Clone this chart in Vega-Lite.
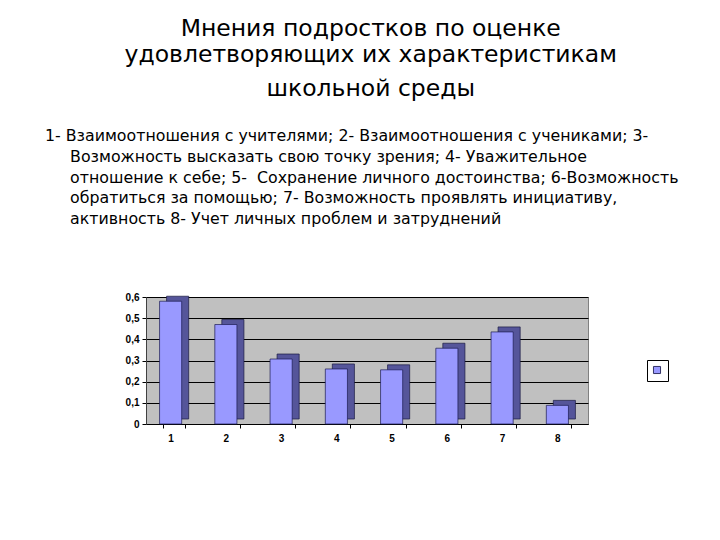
{
  "$schema": "https://vega.github.io/schema/vega-lite/v6.json",
  "padding": {"left": 44, "top": 16, "right": 5, "bottom": 5},
  "background": "white",
  "title": {
    "text": ["Мнения подростков по оценке", "удовлетворяющих их характеристикам"],
    "subtitle": "школьной среды",
    "anchor": "middle",
    "font": "DejaVu Sans",
    "fontSize": 23.5,
    "fontWeight": "normal",
    "color": "black",
    "lineHeight": 26,
    "subtitleFont": "DejaVu Sans",
    "subtitleFontSize": 23.5,
    "subtitleColor": "black",
    "subtitleLineHeight": 26,
    "subtitlePadding": 11,
    "offset": 27,
    "dx": 9
  },
  "config": {
    "view": {"fill": "#c0c0c0", "stroke": "#808080"}
  },
  "vconcat": [
    {
      "width": 442,
      "height": 127,
      "title": {
        "text": [
          "1- Взаимоотношения с учителями; 2- Взаимоотношения с учениками; 3-",
          "\u200b\u00a0\u00a0\u00a0\u00a0\u00a0Возможность высказать свою точку зрения; 4- Уважительное",
          "\u200b\u00a0\u00a0\u00a0\u00a0\u00a0отношение к себе; 5- \u00a0Сохранение личного достоинства; 6-Возможность",
          "\u200b\u00a0\u00a0\u00a0\u00a0\u00a0обратиться за помощью; 7- Возможность проявлять инициативу,",
          "\u200b\u00a0\u00a0\u00a0\u00a0\u00a0активность 8- Учет личных проблем и затруднений"
        ],
        "anchor": "start",
        "frame": "group",
        "dx": -101,
        "font": "DejaVu Sans",
        "fontSize": 15.8,
        "fontWeight": "normal",
        "lineHeight": 20.7,
        "color": "black",
        "offset": 64
      },
      "data": {
        "values": [
          {"cat": "1", "value": 0.58, "series": "Ряд1"},
          {"cat": "2", "value": 0.47, "series": "Ряд1"},
          {"cat": "3", "value": 0.307, "series": "Ряд1"},
          {"cat": "4", "value": 0.26, "series": "Ряд1"},
          {"cat": "5", "value": 0.256, "series": "Ряд1"},
          {"cat": "6", "value": 0.358, "series": "Ряд1"},
          {"cat": "7", "value": 0.435, "series": "Ряд1"},
          {"cat": "8", "value": 0.088, "series": "Ряд1"}
        ]
      },
      "encoding": {
        "x": {
          "field": "cat",
          "type": "ordinal",
          "scale": {"paddingInner": 0.6, "paddingOuter": 0.3},
          "axis": {
            "title": null,
            "labelAngle": 0,
            "labelFont": "Liberation Sans",
            "labelFontWeight": "bold",
            "labelFontSize": 10,
            "labelColor": "black",
            "labelPadding": 5,
            "labelOffset": -3,
            "tickBand": "extent",
            "tickColor": "black",
            "tickSize": 4,
            "domainColor": "black",
            "grid": false
          }
        },
        "y": {
          "field": "value",
          "type": "quantitative",
          "scale": {"domain": [0, 0.6], "nice": false},
          "axis": {
            "title": null,
            "values": [0, 0.1, 0.2, 0.3, 0.4, 0.5, 0.6],
            "labelExpr": "datum.value == 0 ? '0' : replace(format(datum.value, '.1f'), '.', ',')",
            "labelFont": "Liberation Sans",
            "labelFontWeight": "bold",
            "labelFontSize": 10,
            "labelColor": "black",
            "labelPadding": 3,
            "tickColor": "black",
            "tickSize": 4,
            "domainColor": "#404040",
            "grid": true,
            "gridColor": "black",
            "gridWidth": 1,
            "gridOpacity": 1
          }
        }
      },
      "layer": [
        {
          "mark": {
            "type": "bar",
            "color": "#55559a",
            "stroke": "#1a1a40",
            "strokeWidth": 0.7,
            "xOffset": 4,
            "x2Offset": 4,
            "yOffset": -5,
            "y2Offset": -5
          }
        },
        {
          "mark": {
            "type": "bar",
            "stroke": "#1a1a50",
            "strokeWidth": 0.7,
            "xOffset": -3,
            "x2Offset": -3
          },
          "encoding": {
            "color": {
              "field": "series",
              "type": "nominal",
              "scale": {"range": ["#9999ff"]},
              "legend": {
                "orient": "none",
                "legendX": 501,
                "legendY": 63,
                "title": null,
                "labelExpr": "''",
                "labelOffset": 0,
                "symbolType": "square",
                "symbolSize": 50,
                "symbolStrokeColor": "#333366",
                "symbolStrokeWidth": 1,
                "strokeColor": "black",
                "padding": 5
              }
            }
          }
        }
      ]
    }
  ]
}
